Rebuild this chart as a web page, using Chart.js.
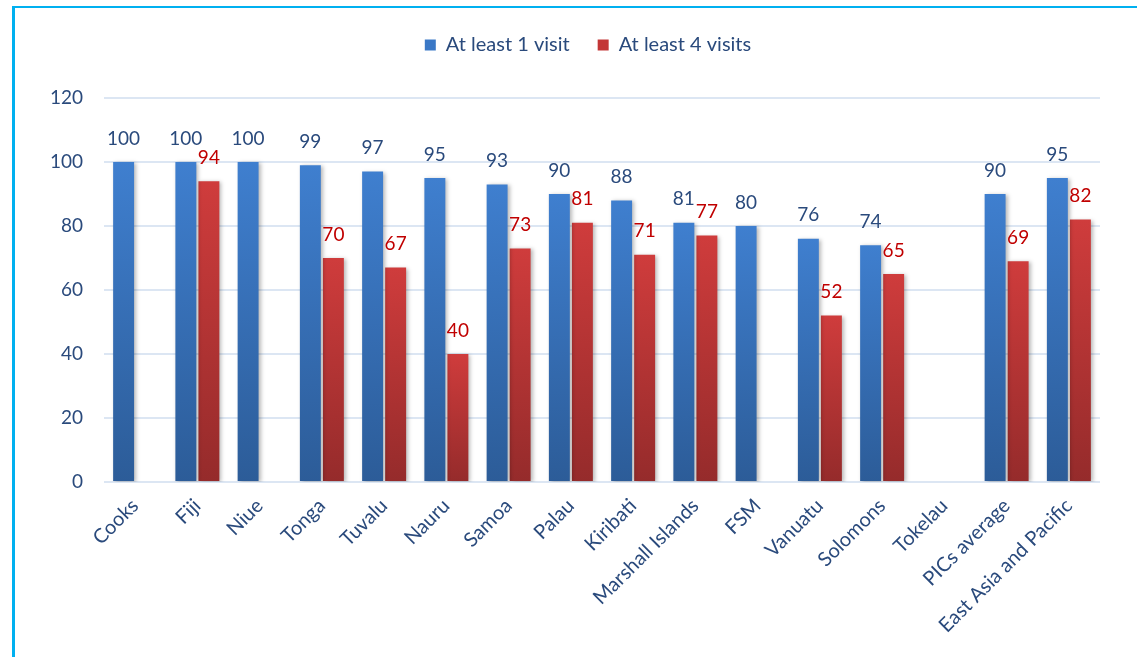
<!DOCTYPE html>
<html>
<head>
<meta charset="utf-8">
<script src="https://cdn.jsdelivr.net/npm/chart.js@4.4.1/dist/chart.umd.min.js"></script>
<style>
  html, body { margin: 0; padding: 0; background: #ffffff; }
  #wrap { position: relative; width: 1137px; height: 657px; overflow: hidden; }
  #frame { position: absolute; left: 12px; top: 6px; width: 1200px; height: 700px;
           border-left: 3px solid #00b0f0; border-top: 2px solid #00b0f0; box-sizing: border-box; }
  canvas { position: absolute; left: 0; top: 0; }
</style>
</head>
<body>
<div id="wrap">
  <div id="frame"></div>
  <canvas id="c" width="1137" height="657"></canvas>
</div>
<script>
const categories = ["Cooks", "Fiji", "Niue", "Tonga", "Tuvalu", "Nauru", "Samoa", "Palau", "Kiribati",
  "Marshall Islands", "FSM", "Vanuatu", "Solomons", "Tokelau", "PICs average", "East Asia and Pacific"];
const atLeast1 = [100, 100, 100, 99, 97, 95, 93, 90, 88, 81, 80, 76, 74, null, 90, 95];
const atLeast4 = [null, 94, null, 70, 67, 40, 73, 81, 71, 77, null, 52, 65, null, 69, 82];
const seriesNames = ["At least 1 visit", "At least 4 visits"];
const yTicks = [0, 20, 40, 60, 80, 100, 120];

const FONT = "Lato";
const TEXT_BLUE = "#2a4a7c";
const LABEL_RED = "#c00000";

function barGradient(top, bottom) {
  return function (ctx) {
    const chart = ctx.chart;
    const v = ctx.raw;
    if (!chart.chartArea || v == null || !chart.scales.y) return top;
    const y = chart.scales.y;
    const y0 = y.getPixelForValue(v), y1 = y.getPixelForValue(0);
    if (!isFinite(y0) || !isFinite(y1) || y0 === y1) return top;
    const g = chart.ctx.createLinearGradient(0, y0, 0, y1);
    g.addColorStop(0, top);
    g.addColorStop(1, bottom);
    return g;
  };
}

const shadowPlugin = {
  id: "barShadow",
  beforeDatasetsDraw(chart) {
    const c = chart.ctx;
    c.save();
    c.shadowColor = "rgba(0,0,0,0.28)";
    c.shadowBlur = 4;
    c.shadowOffsetX = 2;
    c.shadowOffsetY = 1;
  },
  afterDatasetsDraw(chart) {
    chart.ctx.restore();
  }
};

const labelPlugin = {
  id: "valueLabels",
  afterDatasetsDraw(chart) {
    const c = chart.ctx;
    c.save();
    c.font = "19px " + FONT;
    c.textAlign = "center";
    c.textBaseline = "bottom";
    chart.data.datasets.forEach((ds, di) => {
      const meta = chart.getDatasetMeta(di);
      c.fillStyle = di === 0 ? TEXT_BLUE : LABEL_RED;
      meta.data.forEach((el, i) => {
        const v = ds.data[i];
        if (v == null) return;
        c.fillText(String(v), el.x, el.y - 14);
      });
    });
    c.restore();
  }
};

// shift the legend horizontally so it is centred where the reference has it
const LEGEND_SHIFT = 38;
const legendShiftPlugin = {
  id: "legendShift",
  afterLayout(chart) {
    const lg = chart.legend;
    if (!lg) return;
    lg.left += LEGEND_SHIFT;
    lg.right += LEGEND_SHIFT;
  }
};

new Chart(document.getElementById("c"), {
  type: "bar",
  data: {
    labels: categories,
    datasets: [
      { label: seriesNames[0], data: atLeast1,
        backgroundColor: barGradient("#3f7fcf", "#2c5c98"),
        categoryPercentage: 0.74, barPercentage: 0.91 },
      { label: seriesNames[1], data: atLeast4,
        backgroundColor: barGradient("#cf3c3c", "#952b2b"),
        categoryPercentage: 0.74, barPercentage: 0.91 }
    ]
  },
  options: {
    responsive: false,
    animation: false,
    devicePixelRatio: 1,
    layout: { padding: { top: 7, right: 37, left: 0, bottom: 0 } },
    plugins: {
      legend: {
        display: true,
        position: "top",
        labels: {
          font: { family: FONT, size: 20 },
          color: TEXT_BLUE,
          boxWidth: 11, boxHeight: 11,
          padding: 28,
          generateLabels(chart) {
            return chart.data.datasets.map((ds, i) => ({
              text: ds.label,
              fillStyle: i === 0 ? "#3a78c6" : "#c33636",
              strokeStyle: "rgba(0,0,0,0)",
              lineWidth: 0,
              fontColor: TEXT_BLUE,
              datasetIndex: i
            }));
          }
        }
      },
      subtitle: {
        display: true,
        text: " ",
        position: "top",
        weight: 500,
        font: { size: 10 },
        padding: { top: 0, bottom: 21 }
      },
      tooltip: { enabled: false }
    },
    scales: {
      x: {
        grid: { display: false },
        border: { display: false },
        ticks: {
          autoSkip: false, maxRotation: 45, minRotation: 45,
          font: { family: FONT, size: 20 }, color: TEXT_BLUE, padding: 4
        },
        afterFit(scale) { scale.height = 175; }
      },
      y: {
        min: 0, max: 120,
        afterBuildTicks(scale) { scale.ticks = yTicks.map(v => ({ value: v })); },
        grid: { color: "#dce6f3", lineWidth: 2, drawTicks: false },
        border: { display: false },
        ticks: { font: { family: FONT, size: 19 }, color: TEXT_BLUE, padding: 21 },
        afterFit(scale) { scale.width = 104; }
      }
    }
  },
  plugins: [shadowPlugin, labelPlugin, legendShiftPlugin]
});
</script>
</body>
</html>
